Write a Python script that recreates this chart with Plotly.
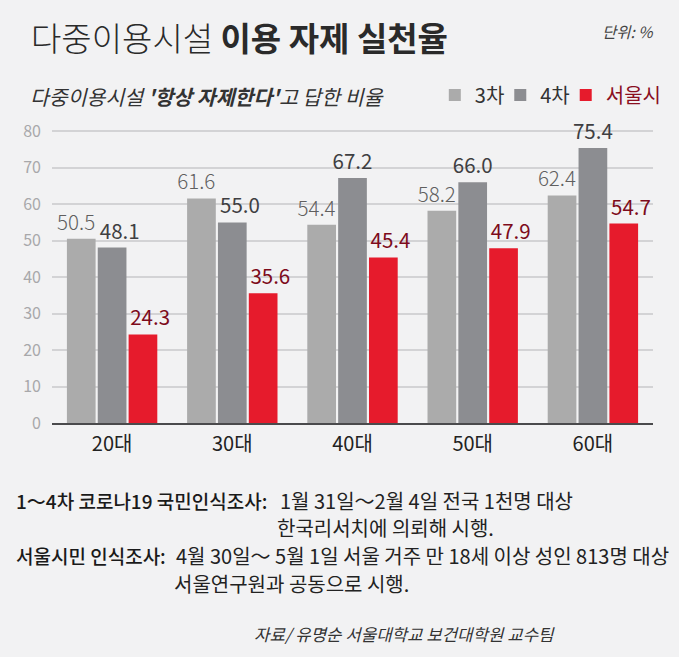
import plotly.graph_objects as go

# ---- data ----
categories = ["20대", "30대", "40대", "50대", "60대"]
series_names = ["3차", "4차", "서울시"]
values_3 = [50.5, 61.6, 54.4, 58.2, 62.4]
values_4 = [48.1, 55.0, 67.2, 66.0, 75.4]
values_seoul = [24.3, 35.6, 45.4, 47.9, 54.7]
y_ticks = [0, 10, 20, 30, 40, 50, 60, 70, 80]

# ---- layout geometry ----
W, H = 679, 657
L, R, T, B = 52, 21, 124, 234
PW, PH = W - L - R, H - T - B

def px(x):
    return (x - L) / PW

def py(y):
    return (H - B - y) / PH

FONT = "Noto Sans CJK KR, Noto Sans, sans-serif"
BG = "#f2f2f3"

# label texts: 4차 labels nudged right where they sit lower than the 3차 label beside them
text_3 = [f"{v:.1f}\u2002" for v in values_3]
text_4 = [("\u2002\u2005" if v4 < v3 else "") + f"{v4:.1f}" for v3, v4 in zip(values_3, values_4)]
text_s = [f"\u2002\u2009{v:.1f}" for v in values_seoul]

fig = go.Figure()
fig.add_trace(go.Bar(
    x=categories, y=values_3, name=series_names[0], legend="legend",
    marker=dict(color="#ababab", line=dict(width=0)),
    text=text_3, textposition="outside",
    textfont=dict(family=FONT, size=20.5, color="#5f5f5f", weight=300),
    constraintext="none", cliponaxis=False,
))
fig.add_trace(go.Bar(
    x=categories, y=values_4, name=series_names[1], legend="legend2",
    marker=dict(color="#8c8d91", line=dict(width=0)),
    text=text_4, textposition="outside",
    textfont=dict(family=FONT, size=20.5, color="#3f3f42"),
    constraintext="none", cliponaxis=False,
))
fig.add_trace(go.Bar(
    x=categories, y=values_seoul, legend="legend3",
    name="<span style='color:#8a0f1f'>" + series_names[2] + "</span>",
    marker=dict(color="#e61b2c", line=dict(width=0)),
    text=text_s, textposition="outside",
    textfont=dict(family=FONT, size=20.5, color="#7d0b1b"),
    constraintext="none", cliponaxis=False,
))

FS = 20
FL = 19
annotations = [
    dict(text="다중이용시설 <b>이용 자제 실천율</b>", x=px(29), y=py(37),
         xanchor="left", yanchor="middle",
         font=dict(family=FONT, size=33, color="#2a2a2a", weight=300)),
    dict(text="<i>단위: %</i>", x=px(661), y=py(31), xanchor="right", yanchor="middle",
         font=dict(family=FONT, size=15.5, color="#444444")),
    dict(text="<i>다중이용시설 <b>'항상 자제한다'</b>고 답한 비율</i>", x=px(28), y=py(96),
         xanchor="left", yanchor="middle",
         font=dict(family=FONT, size=20.5, color="#333333")),
    dict(text="1～4차 코로나19 국민인식조사:", x=px(14), y=py(500),
         xanchor="left", yanchor="middle",
         font=dict(family=FONT, size=FL, color="#1a1a1a", weight=500)),
    dict(text="1월 31일～2월 4일 전국 1천명 대상", x=px(280), y=py(500),
         xanchor="left", yanchor="middle",
         font=dict(family=FONT, size=FS, color="#222222")),
    dict(text="한국리서치에 의뢰해 시행.", x=px(277), y=py(527),
         xanchor="left", yanchor="middle",
         font=dict(family=FONT, size=FS, color="#222222")),
    dict(text="서울시민 인식조사:", x=px(14), y=py(555),
         xanchor="left", yanchor="middle",
         font=dict(family=FONT, size=FL, color="#1a1a1a", weight=500)),
    dict(text="4월 30일～ 5월 1일 서울 거주 만 18세 이상 성인 813명 대상", x=px(175), y=py(555),
         xanchor="left", yanchor="middle",
         font=dict(family=FONT, size=FS, color="#222222")),
    dict(text="서울연구원과 공동으로 시행.", x=px(173), y=py(583),
         xanchor="left", yanchor="middle",
         font=dict(family=FONT, size=FS, color="#222222")),
    dict(text="<i>자료/ 유명순 서울대학교 보건대학원 교수팀</i>", x=px(254), y=py(634),
         xanchor="left", yanchor="middle",
         font=dict(family=FONT, size=16.8, color="#333333")),
]
for a in annotations:
    a.update(xref="paper", yref="paper", showarrow=False)

def legend_at(xpix):
    return dict(orientation="h", x=px(xpix), y=py(95), xanchor="left", yanchor="middle",
                font=dict(family=FONT, size=20, color="#333333"),
                bgcolor="rgba(0,0,0,0)")

fig.update_layout(
    width=W, height=H, autosize=False,
    margin=dict(l=L, r=R, t=T, b=B, pad=0),
    paper_bgcolor=BG, plot_bgcolor=BG,
    barmode="group", bargap=0.23, bargroupgap=0.07,
    showlegend=True,
    legend=legend_at(438),
    legend2=legend_at(504),
    legend3=legend_at(570),
    annotations=annotations,
    font=dict(family=FONT),
    xaxis=dict(showgrid=False, showline=True, linecolor="#4a4a4c", linewidth=2,
               ticks="", tickfont=dict(family=FONT, size=20, color="#222222"),
               ticklabelstandoff=2, fixedrange=True),
    yaxis=dict(range=[0, 82], tickvals=y_ticks, showgrid=True, gridcolor="#d3d3d5",
               gridwidth=1.5, zeroline=False, showline=False, ticks="",
               tickfont=dict(family=FONT, size=16, color="#a8a8aa"),
               ticklabelstandoff=10, fixedrange=True),
    hovermode=False,
)

fig.write_html(
    "out.html",
    config={"displayModeBar": False},
    post_script="document.body.style.margin='0';document.body.style.background='" + BG + "';",
)
